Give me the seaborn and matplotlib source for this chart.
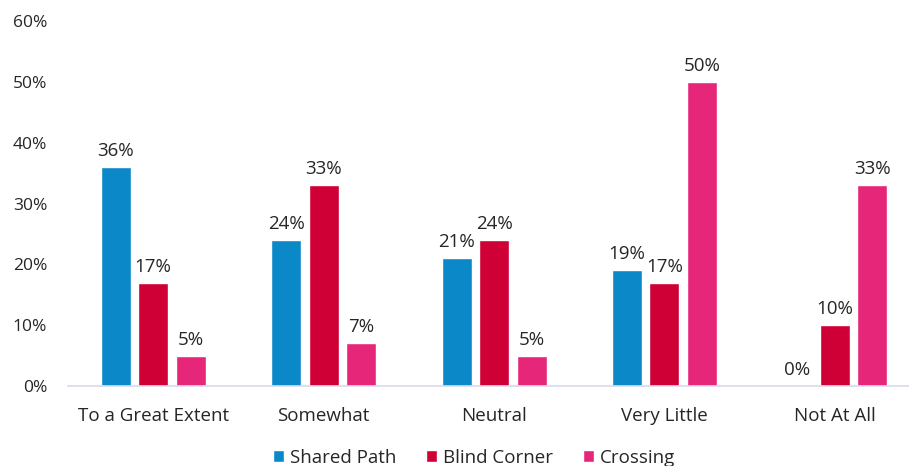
import matplotlib
matplotlib.use("Agg")
import matplotlib.pyplot as plt
import seaborn as sns
import pandas as pd

categories = ["To a Great Extent", "Somewhat", "Neutral", "Very Little", "Not At All"]
series = ["Shared Path", "Blind Corner", "Crossing"]
shared_path = [36, 24, 21, 19, 0]
blind_corner = [17, 33, 24, 17, 10]
crossing = [5, 7, 5, 50, 33]
colors = ["#0A88C8", "#CF0036", "#E62678"]

df = pd.DataFrame({
    "category": categories * 3,
    "series": [s for s in series for _ in categories],
    "value": shared_path + blind_corner + crossing,
})

sns.set_theme(style="white")
plt.rcParams["font.family"] = ["Open Sans", "DejaVu Sans"]

fig = plt.figure(figsize=(9.09, 4.66), dpi=100)
ax = fig.add_axes([68 / 909, 80 / 466, 1 - 68 / 909, 365 / 466])

sns.barplot(data=df, x="category", y="value", hue="series", order=categories,
            hue_order=series, palette=colors, width=0.66, gap=0.2,
            saturation=1, ax=ax, legend=True)

for container in ax.containers:
    ax.bar_label(container, labels=[f"{v:.0f}%" for v in container.datavalues],
                 padding=5, fontsize=13.5, color="#262626")

ax.set_ylim(0, 60)
ax.set_xlim(-0.5, 4.435)
ax.set_yticks(range(0, 61, 10))
ax.set_yticklabels([f"{t}%" for t in range(0, 61, 10)], fontsize=12.5, color="#262626")
ax.tick_params(axis="x", labelsize=13.5, labelcolor="#262626", pad=9)
ax.tick_params(axis="y", pad=9)
ax.set_xlabel("")
ax.set_ylabel("")
for side in ["top", "right", "left"]:
    ax.spines[side].set_visible(False)
ax.spines["bottom"].set_color("#D9D9EE")
ax.spines["bottom"].set_linewidth(1.2)

ax.legend(loc="center", bbox_to_anchor=(474 / 909, 8 / 466), bbox_transform=fig.transFigure,
          ncol=3, frameon=False, fontsize=13.5, handlelength=0.6, handleheight=0.6,
          handletextpad=0.3, columnspacing=1.6, labelcolor="#262626")

fig.savefig("out.png", dpi=100)
